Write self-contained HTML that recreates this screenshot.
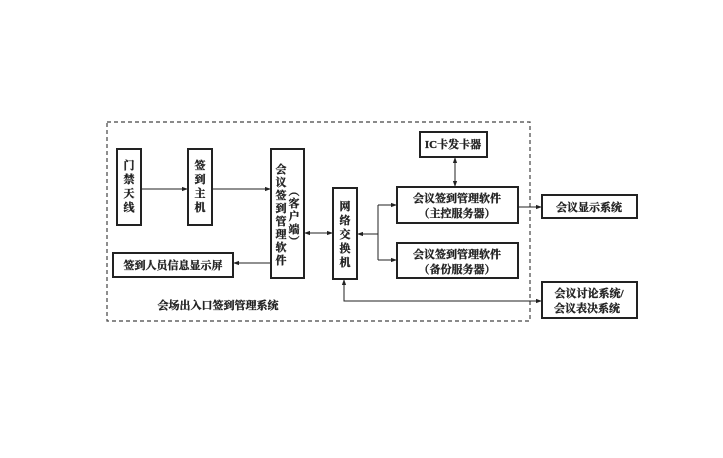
<!DOCTYPE html>
<html><head><meta charset="utf-8"><style>
body{margin:0;background:#fff}
svg text{font-family:"Liberation Serif","Noto Serif CJK SC","Noto Sans CJK SC",serif;font-size:11px;font-weight:bold;fill:#222;stroke:#222;stroke-width:0.35}
</style></head><body>
<svg width="723" height="453" viewBox="0 0 723 453" xmlns="http://www.w3.org/2000/svg">
<defs><marker id="a" viewBox="0 0 10 10" refX="10" refY="5" markerWidth="7" markerHeight="6" orient="auto-start-reverse"><path d="M0,1.5 L10,5 L0,8.5z" fill="#222"/></marker></defs>
<rect x="107" y="122" width="423" height="199" fill="none" stroke="#444" stroke-width="1.2" stroke-dasharray="4,3"/>
<g fill="none" stroke="#222" stroke-width="2">
<rect x="117" y="149" width="24" height="76"/>
<rect x="188" y="149" width="24" height="76"/>
<rect x="271" y="149" width="33" height="129"/>
<rect x="333" y="188" width="24" height="91"/>
<rect x="113" y="253" width="120" height="24"/>
<rect x="420" y="132" width="67" height="25"/>
<rect x="397" y="187" width="121" height="36"/>
<rect x="397" y="243" width="121" height="35"/>
<rect x="542" y="195" width="95" height="23"/>
<rect x="542" y="282" width="95" height="36"/>
</g>
<g fill="none" stroke="#222" stroke-width="1">
<line x1="141" y1="189" x2="188" y2="189" marker-end="url(#a)"/>
<line x1="212" y1="189" x2="271" y2="189" marker-end="url(#a)"/>
<line x1="304" y1="233" x2="333" y2="233" marker-start="url(#a)" marker-end="url(#a)"/>
<line x1="271" y1="263" x2="233" y2="263" marker-end="url(#a)"/>
<line x1="378" y1="234" x2="357" y2="234" marker-end="url(#a)"/>
<line x1="378" y1="205" x2="378" y2="260"/>
<line x1="378" y1="205" x2="397" y2="205" marker-end="url(#a)"/>
<line x1="378" y1="260" x2="397" y2="260" marker-end="url(#a)"/>
<line x1="455" y1="157" x2="455" y2="187" marker-start="url(#a)" marker-end="url(#a)"/>
<line x1="518" y1="207" x2="542" y2="207" marker-end="url(#a)"/>
<polyline points="344,279 344,301 542,301" marker-start="url(#a)" marker-end="url(#a)"/>
</g>
<g text-anchor="middle">
<text x="129" y="169">门</text><text x="129" y="183">禁</text><text x="129" y="197">天</text><text x="129" y="211">线</text>
<text x="200" y="169">签</text><text x="200" y="183">到</text><text x="200" y="197">主</text><text x="200" y="211">机</text>
<text x="281" y="173">会</text><text x="281" y="186">议</text><text x="281" y="199">签</text><text x="281" y="212">到</text><text x="281" y="225">管</text><text x="281" y="238">理</text><text x="281" y="251">软</text><text x="281" y="264">件</text>
<text x="294" y="195" font-size="10">︵</text><text x="294" y="207">客</text><text x="294" y="220">户</text><text x="294" y="233">端</text><text x="294" y="245" font-size="10">︶</text>
<text x="345" y="210">网</text><text x="345" y="224">络</text><text x="345" y="238">交</text><text x="345" y="252">换</text><text x="345" y="266">机</text>
<text x="173" y="269">签到人员信息显示屏</text>
<text x="218" y="309">会场出入口签到管理系统</text>
<text x="453" y="148">IC卡发卡器</text>
<text x="457" y="202">会议签到管理软件</text><text x="457" y="217">（主控服务器）</text>
<text x="457" y="258">会议签到管理软件</text><text x="457" y="273">（备份服务器）</text>
<text x="589" y="211">会议显示系统</text>
<text x="589" y="297">会议讨论系统/</text><text x="587" y="312">会议表决系统</text>
</g>
</svg>
</body></html>
